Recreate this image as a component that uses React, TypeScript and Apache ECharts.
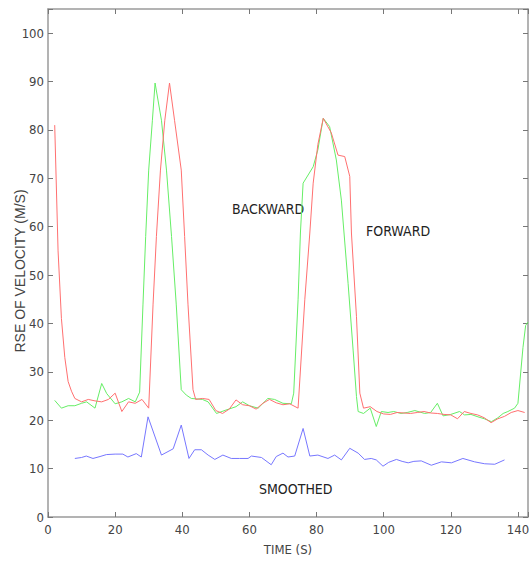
import React, { useEffect, useRef } from "react";
import * as echarts from "echarts";

// [time (s), RSE of velocity (m/s)]
const forward: number[][] = [
  [2, 81], [3, 55], [4, 41], [5, 33], [6, 28], [7, 26], [8, 24.5], [10, 23.8], [12, 24.3],
  [14, 24], [16, 23.8], [18, 24.3], [20, 25.6], [22, 21.8], [24, 23.8], [26, 23.5], [28, 24.3],
  [30, 22.5], [31.3, 44], [32.3, 58], [33.5, 71.7], [34.8, 82], [36.2, 89.7], [37.7, 82],
  [39.7, 71.7], [40.7, 58], [41.7, 44], [43.2, 26.3], [44, 24.3], [46, 24.5], [48, 24.3],
  [50, 22], [52, 21.4], [54, 22.3], [56, 24.2], [58, 23.2], [60, 23], [62, 22.3], [64, 23.5],
  [66, 24.3], [68, 23.6], [70, 23.2], [72, 23.4], [74.5, 22.5], [76.5, 44.9], [78, 58.7],
  [79, 69], [80.4, 77], [82, 82.4], [84.4, 79.4], [86.4, 74.8], [88.4, 74.5], [89.9, 70.4],
  [90.4, 58.7], [91.9, 41.4], [92.9, 25.6], [94, 22.5], [96, 22.8], [98, 21.8], [100, 21.3],
  [102, 21.2], [104, 21.6], [106, 21.5], [108, 21.4], [110, 21.6], [112, 21.8], [114, 21.5],
  [116, 21.4], [118, 21.2], [120, 21.1], [122, 20.3], [124, 21.8], [126, 21.4], [128, 21.1],
  [130, 20.5], [132, 19.5], [134, 20.3], [136, 20.8], [138, 21.6], [140, 22], [142, 21.6],
];

const backward: number[][] = [
  [2, 24.1], [4, 22.5], [6, 23], [8, 23], [10, 23.5], [11.5, 23.8], [14, 22.5], [16, 27.6],
  [17.5, 25.5], [20, 23.4], [22, 23.8], [24, 24.5], [26, 23.8], [27.3, 25.8], [28.3, 44],
  [29.1, 58], [30, 71.7], [31.1, 82], [31.9, 89.7], [33.8, 82], [35.3, 71.7], [36.8, 58],
  [38.2, 44], [39.7, 26.3], [41.2, 25.2], [42.7, 24.5], [44.4, 24.4], [46, 24.3], [47.7, 23.8],
  [50.2, 21.4], [53, 22.1], [56, 22.8], [58, 23.8], [60, 23], [62.6, 22.5], [65.5, 24.5],
  [67.5, 24.3], [70, 23.5], [72.5, 23.4], [73.2, 25.6], [74.5, 44.9], [75.2, 58.7], [76, 69],
  [79, 72.4], [80.4, 75.9], [81.4, 80], [82, 82.4], [83.9, 80.7], [85.9, 73.8], [87.4, 65.5],
  [89.4, 48.3], [90.9, 34.5], [91.9, 24.9], [92.4, 21.8], [94, 21.4], [96, 22.5], [97.8, 18.7],
  [99.3, 21.8], [101.3, 21.6], [103, 21.8], [105.2, 21.4], [107, 21.6], [109.3, 22],
  [112.2, 21.4], [114, 21.6], [116, 23.5], [117.7, 20.9], [120, 21.2], [122.6, 21.8],
  [124.1, 21.1], [126, 21.2], [128.1, 20.7], [130, 20.3], [132.1, 19.7], [134, 20.5],
  [135.6, 21.4], [137, 21.8], [139, 22.5], [140, 23.5], [141.5, 35], [142.3, 39.6], [143, 40.3],
];

const smoothed: number[][] = [
  [8, 12.1], [10, 12.3], [11.4, 12.6], [13.4, 12.1], [15.5, 12.5], [17.4, 12.9], [20, 13],
  [22.3, 13], [23.8, 12.4], [26.3, 13.1], [27.8, 12.4], [29.8, 20.7], [33.8, 12.8], [37.3, 14.1],
  [39.7, 19], [42, 12.1], [43.7, 13.9], [45.7, 13.9], [47.7, 12.8], [49.7, 11.9], [52.1, 12.8],
  [54.6, 12.1], [57, 12.1], [59.6, 12.1], [60.6, 12.6], [63.6, 12.3], [66.5, 10.8], [68, 12.5],
  [70, 13.2], [71.5, 12.4], [73.5, 12.6], [76, 18.3], [78, 12.6], [80.4, 12.8], [83.4, 12.1],
  [85.4, 12.8], [87.4, 11.8], [89.9, 14.2], [92.4, 13.2], [94.3, 11.9], [96.3, 12.1],
  [97.8, 11.8], [99.8, 10.5], [101.5, 11.3], [103.8, 11.9], [105.5, 11.5], [107.3, 11.2],
  [109, 11.5], [111.2, 11.6], [114.2, 10.7], [117.2, 11.4], [120.2, 11.2], [123.6, 12.1],
  [127.1, 11.4], [130.1, 11], [133.1, 10.9], [136, 11.8],
];

const xTicks = [0, 20, 40, 60, 80, 100, 120, 140];
const yTicks = [0, 10, 20, 30, 40, 50, 60, 70, 80, 90, 100];

const FONT = "'Liberation Sans', Arial, sans-serif";
const NARROW = "'Liberation Sans Narrow', 'Arial Narrow', 'DejaVu Sans Condensed', sans-serif";
const AXIS_COLOR = "#9a9a9a";
const TEXT_COLOR = "#444";

export default function App() {
  const ref = useRef<HTMLDivElement>(null);
  useEffect(() => {
    document.body.style.margin = "0";
    if (!ref.current) return;
    const chart = echarts.init(ref.current, undefined, { renderer: "svg" });
    const axisLine = { show: true, onZero: false, lineStyle: { color: AXIS_COLOR, width: 1.5 } };
    const axisTick = { show: true, inside: true, length: 5, lineStyle: { color: "#777", width: 1 } };
    chart.setOption({
      animation: false,
      backgroundColor: "#fff",
      grid: { left: 48, right: 2, top: 9, bottom: 47, outerBoundsMode: "none", containLabel: false },
      xAxis: [
        {
          type: "value", min: 0, max: 143, interval: 20, position: "bottom",
          axisLine, axisTick,
          splitLine: { show: false },
          axisLabel: {
            color: TEXT_COLOR, fontFamily: NARROW, fontSize: 13, margin: 6,
            formatter: (v: number) => (xTicks.includes(v) ? String(v) : ""),
          },
          name: "TIME (S)", nameLocation: "middle", nameGap: 26, nameMoveOverlap: false,
          nameTextStyle: { color: TEXT_COLOR, fontFamily: NARROW, fontSize: 13 },
        },
        {
          type: "value", min: 0, max: 143, interval: 20, position: "top",
          axisLine, axisTick, splitLine: { show: false }, axisLabel: { show: false },
        },
      ],
      yAxis: [
        {
          type: "value", min: 0, max: 105, interval: 10, position: "left",
          axisLine, axisTick,
          splitLine: { show: false },
          axisLabel: {
            color: TEXT_COLOR, fontFamily: NARROW, fontSize: 13, margin: 4,
            formatter: (v: number) => (yTicks.includes(v) ? String(v) : ""),
          },
          name: "RSE OF VELOCITY (M/S)", nameLocation: "middle", nameGap: 21, nameMoveOverlap: false,
          nameTextStyle: { color: TEXT_COLOR, fontFamily: FONT, fontSize: 14, padding: [0, 16, 0, 0] },
        },
        {
          type: "value", min: 0, max: 105, interval: 10, position: "right",
          axisLine, axisTick, splitLine: { show: false }, axisLabel: { show: false },
        },
      ],
      series: [
        {
          name: "FORWARD", type: "line", data: forward, showSymbol: false,
          lineStyle: { color: "#ff7070", width: 1 }, itemStyle: { color: "#ff7070" },
          xAxisIndex: 0, yAxisIndex: 0, z: 3,
        },
        {
          name: "BACKWARD", type: "line", data: backward, showSymbol: false,
          lineStyle: { color: "#66ee66", width: 1 }, itemStyle: { color: "#66ee66" },
          xAxisIndex: 0, yAxisIndex: 0, z: 2,
        },
        {
          name: "SMOOTHED", type: "line", data: smoothed, showSymbol: false,
          lineStyle: { color: "#7777ff", width: 1 }, itemStyle: { color: "#7777ff" },
          xAxisIndex: 0, yAxisIndex: 0, z: 2,
        },
      ],
      graphic: [
        { type: "text", left: 232, top: 202, style: { text: "BACKWARD", fill: "#222", font: `14px ${NARROW}` } },
        { type: "text", left: 366, top: 224, style: { text: "FORWARD", fill: "#222", font: `14px ${NARROW}` } },
        { type: "text", left: 259, top: 482, style: { text: "SMOOTHED", fill: "#222", font: `14px ${NARROW}` } },
      ],
    });
    return () => chart.dispose();
  }, []);
  return <div ref={ref} style={{ width: 530, height: 564 }} />;
}
